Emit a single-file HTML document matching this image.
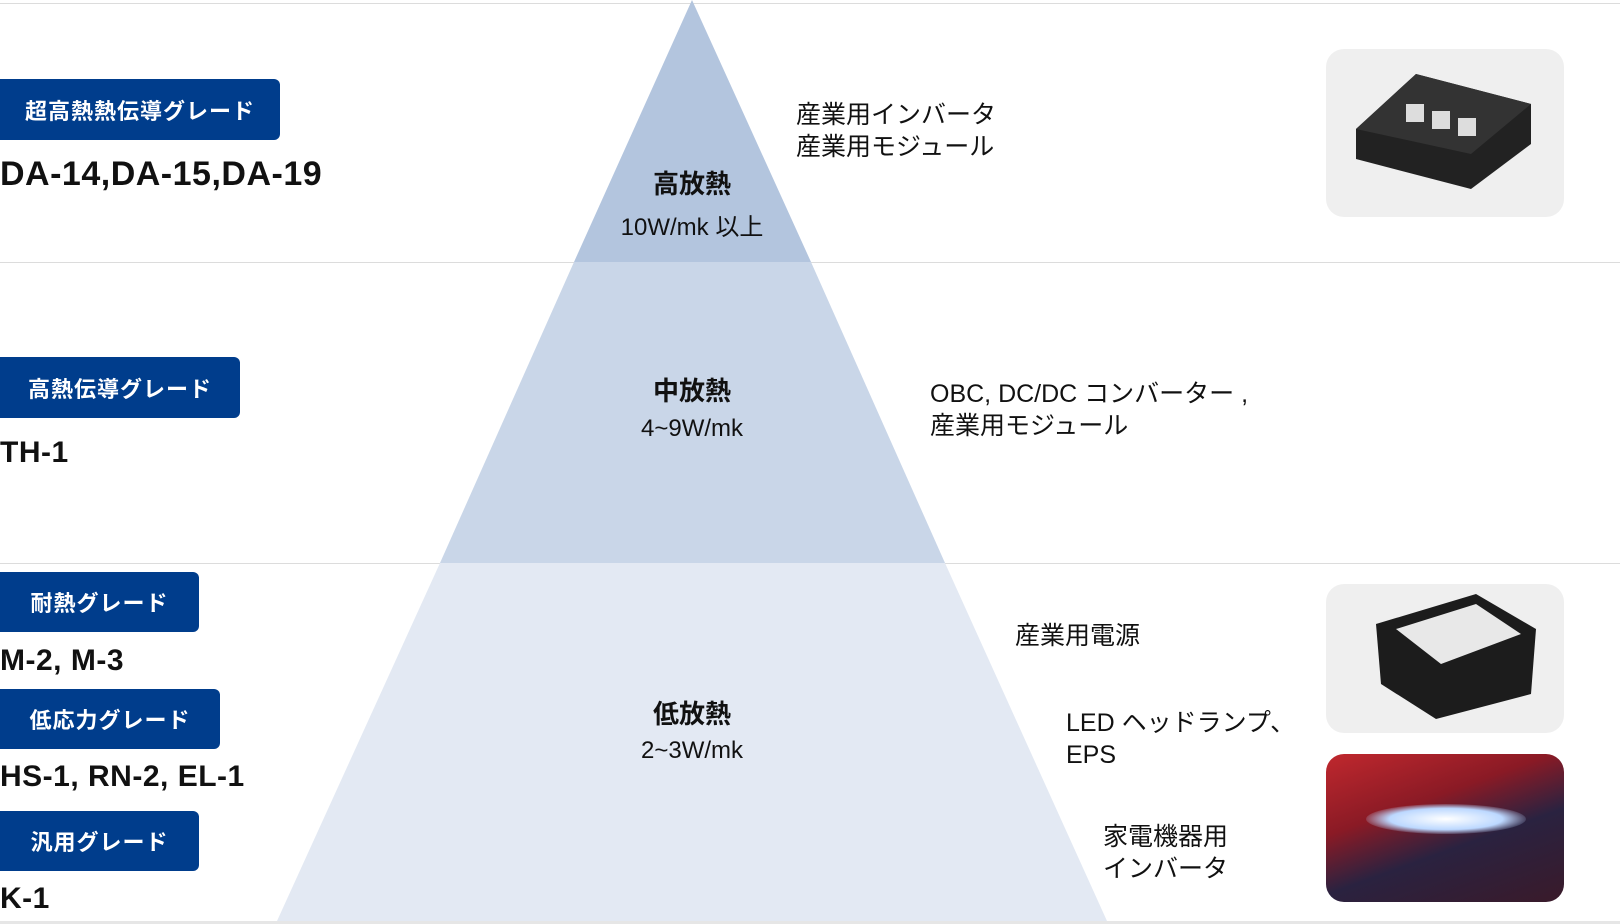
<!DOCTYPE html>
<html><head><meta charset="utf-8"><style>
body{margin:0;width:1620px;height:924px;background:#fff;position:relative;overflow:hidden;font-family:"Liberation Sans","Noto Sans CJK JP",sans-serif;color:#111}
.a{position:absolute;white-space:nowrap}
.hl{position:absolute;left:0;width:1620px;height:1px;background:#dcdcdc}
.b{position:absolute;left:0;background:#003d8c;color:#fff;border-radius:0 6px 6px 0;font-weight:bold;font-size:22px;display:flex;align-items:center;justify-content:center;letter-spacing:1px}
.p{position:absolute;left:0;font-weight:bold;font-size:34px;line-height:40px;letter-spacing:0.5px}
.t{position:absolute;font-size:25px;line-height:32px;white-space:nowrap}
.c{position:absolute;left:592px;width:200px;text-align:center;white-space:nowrap}
.h{font-weight:bold;font-size:26px}
.s{font-size:24px}
.img{position:absolute;border-radius:18px;background:#efefef}
</style></head><body>
<div class="hl" style="top:3px"></div>
<div class="hl" style="top:262px"></div>
<div class="hl" style="top:563px"></div>
<div class="hl" style="top:921px;height:3px;background:#e6e6e6"></div>
<svg class="a" style="left:0;top:0" width="1620" height="924">
<polygon points="692,0 811,262 574,262" fill="#b3c5de"/>
<polygon points="574,262 811,262 945,563 440,563" fill="#c9d6e8"/>
<polygon points="440,563 945,563 1107,921 277,921" fill="#e3e9f3"/>
</svg>
<div class="c h" style="top:164px">高放熱</div>
<div class="c s" style="top:207px">10W/mk 以上</div>
<div class="c h" style="top:371px">中放熱</div>
<div class="c s" style="top:415px">4~9W/mk</div>
<div class="c h" style="top:694px">低放熱</div>
<div class="c s" style="top:737px">2~3W/mk</div>

<div class="b" style="top:79px;width:280px;height:61px">超高熱熱伝導グレード</div>
<div class="p" style="top:154px">DA-14,DA-15,DA-19</div>
<div class="b" style="top:357px;width:240px;height:61px">高熱伝導グレード</div>
<div class="p" style="top:433px;font-size:30px">TH-1</div>
<div class="b" style="top:572px;width:199px;height:60px">耐熱グレード</div>
<div class="p" style="top:641px;font-size:30px">M-2, M-3</div>
<div class="b" style="top:689px;width:220px;height:60px">低応力グレード</div>
<div class="p" style="top:757px;font-size:30px">HS-1, RN-2, EL-1</div>
<div class="b" style="top:811px;width:199px;height:60px">汎用グレード</div>
<div class="p" style="top:879px;font-size:30px">K-1</div>

<div class="t" style="left:796px;top:99px">産業用インバータ<br>産業用モジュール</div>
<div class="t" style="left:930px;top:378px">OBC, DC/DC コンバーター ,<br>産業用モジュール</div>
<div class="t" style="left:1015px;top:620px">産業用電源</div>
<div class="t" style="left:1066px;top:707px">LED ヘッドランプ、<br>EPS</div>
<div class="t" style="left:1103px;top:821px">家電機器用<br>インバータ</div>

<div class="img" style="left:1326px;top:49px;width:238px;height:168px">
<svg width="238" height="168"><polygon points="30,80 90,25 205,55 205,95 145,140 30,110" fill="#222"/><polygon points="30,80 90,25 205,55 145,105" fill="#333"/>
<rect x="80" y="55" width="18" height="18" fill="#ddd"/><rect x="106" y="62" width="18" height="18" fill="#ddd"/><rect x="132" y="69" width="18" height="18" fill="#ddd"/></svg></div>
<div class="img" style="left:1326px;top:584px;width:238px;height:149px">
<svg width="238" height="149"><polygon points="50,40 150,10 210,45 205,110 110,135 55,100" fill="#1c1c1c"/><polygon points="70,45 150,20 195,50 115,80" fill="#e8e8e8"/></svg></div>
<div class="img" style="left:1326px;top:754px;width:238px;height:148px;background:linear-gradient(160deg,#c0282e 0%,#8a1a25 35%,#2a2240 60%,#3a1a2a 100%);overflow:hidden">
<div style="position:absolute;left:40px;top:50px;width:160px;height:30px;border-radius:50%;background:radial-gradient(#fff,#bcd8ff 50%,rgba(100,140,220,0) 75%)"></div></div>
</body></html>
